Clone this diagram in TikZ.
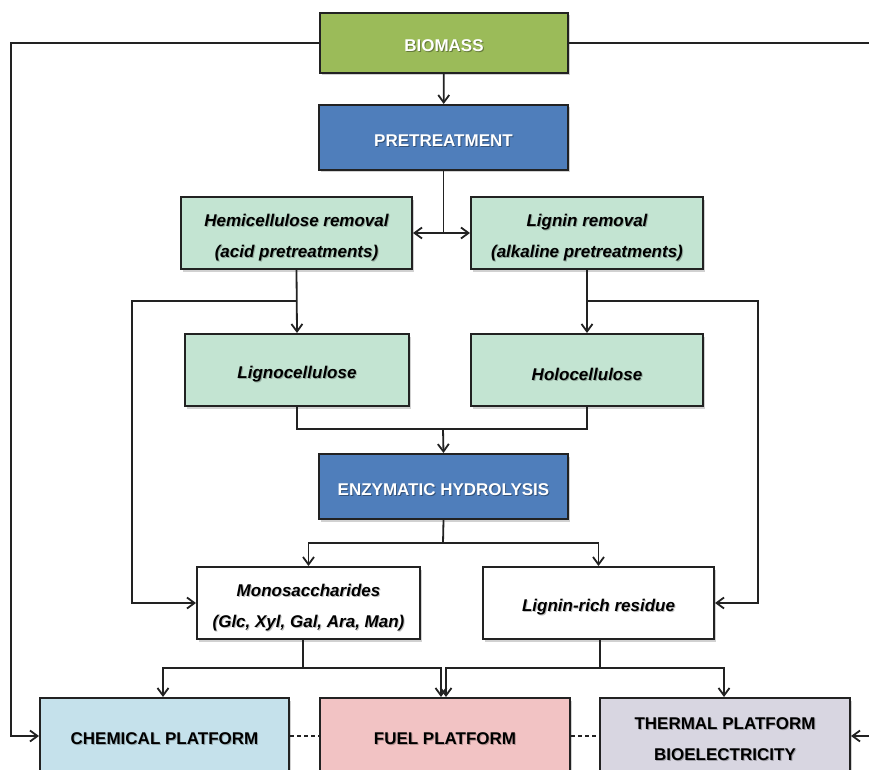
\documentclass[tikz,border=0pt]{standalone}
\usepackage{fontspec}
\setmainfont{Liberation Sans}
\usetikzlibrary{arrows.meta,shadows}
\definecolor{biogreen}{HTML}{9BBB59}
\definecolor{procblue}{HTML}{4F7EBB}
\definecolor{mint}{HTML}{C3E4D2}
\definecolor{chemblue}{HTML}{C5E1EB}
\definecolor{fuelpink}{HTML}{F2C3C4}
\definecolor{thermgray}{HTML}{D8D6E1}
\definecolor{edge}{HTML}{222222}
\tikzset{
  box/.style={draw=edge, line width=2pt, inner sep=0pt,
    drop shadow={shadow xshift=2pt, shadow yshift=-2.5pt, fill=black, opacity=0.18}},
  lbl/.style={inner sep=0pt, align=center, font=\fontsize{17}{31}\selectfont\bfseries},
  ilbl/.style={inner sep=0pt, align=center, font=\fontsize{17}{31}\selectfont\bfseries\itshape},
  wtxt/.style={label={[lbl, text=black, opacity=0.35, yshift=-4pt, xshift=1pt]center:{#1}},
               label={[lbl, text=white, yshift=-3pt]center:{#1}}},
  btxt/.style={label={[lbl, text=black, opacity=0.25, yshift=-4pt, xshift=1pt]center:{#1}},
               label={[lbl, text=black, yshift=-3pt]center:{#1}}},
  itxt/.style={label={[ilbl, text=black, opacity=0.25, yshift=-5.5pt, xshift=1pt]center:{#1}},
               label={[ilbl, text=black, yshift=-4.5pt]center:{#1}}},
  arr/.style={line width=1.8pt, draw=edge, -{Straight Barb[length=7.5pt,width=11pt,line width=1.8pt]}},
  ln/.style={line width=1.8pt, draw=edge},
  dline/.style={line width=1.8pt, draw=edge, dash pattern=on 4pt off 3pt}
}
\begin{document}
\begin{tikzpicture}[x=1pt,y=-1pt]
\useasboundingbox (0,0) rectangle (869,770);
\clip (0,0) rectangle (869,770);
\node[box, fill=biogreen, minimum width=248, minimum height=60, wtxt={BIOMASS}] (bio) at (444,43) {};
\node[box, fill=procblue, minimum width=249, minimum height=65, wtxt={PRETREATMENT}] (pre) at (443.5,137.5) {};
\node[box, fill=mint, minimum width=231, minimum height=72, itxt={Hemicellulose removal\\(acid pretreatments)}] (hemi) at (296.5,233) {};
\node[box, fill=mint, minimum width=232, minimum height=72, itxt={Lignin removal\\(alkaline pretreatments)}] (lrem) at (587,233) {};
\node[box, fill=mint, minimum width=224, minimum height=72, itxt={Lignocellulose}] (ligno) at (297,370) {};
\node[box, fill=mint, minimum width=232, minimum height=72, itxt={Holocellulose}] (holo) at (587,370) {};
\node[box, fill=procblue, minimum width=249, minimum height=65, wtxt={ENZYMATIC HYDROLYSIS}] (enz) at (443.5,486.5) {};
\node[box, fill=white, minimum width=223, minimum height=72, itxt={Monosaccharides\\(Glc, Xyl, Gal, Ara, Man)}] (mono) at (308.5,603) {};
\node[box, fill=white, minimum width=231, minimum height=72, itxt={Lignin-rich residue}] (lres) at (598.5,603) {};
\node[box, fill=chemblue, minimum width=249, minimum height=76, btxt={CHEMICAL PLATFORM}] (chem) at (164.5,736) {};
\node[box, fill=fuelpink, minimum width=250, minimum height=76, btxt={FUEL PLATFORM}] (fuel) at (445,736) {};
\node[box, fill=thermgray, minimum width=250, minimum height=76, btxt={THERMAL PLATFORM\\BIOELECTRICITY}] (therm) at (725,736) {};
% coordinates
\coordinate (lout) at (11,43);
\coordinate (rout) at (869,43);
\coordinate (rin) at (869,736);
\coordinate (bl) at (132,301);
\coordinate (br) at (758,301);
\coordinate (jm) at (443,429);
\coordinate (je) at (443,543);
\coordinate (mx) at (303,0);
\coordinate (rx) at (600,0);
\coordinate (ym) at (0,668);
\coordinate (c1) at (163,668);
\coordinate (f1) at (441,668);
\coordinate (f2) at (446,668);
\coordinate (t1) at (724,668);
% connectors
\draw[arr] (bio) -- (pre);
\draw[ln] (pre.south) -- (pre.south |- hemi.east);
\draw[arr] (pre.south |- hemi.east) -- (hemi.east);
\draw[arr] (pre.south |- hemi.east) -- (lrem.west);
\draw[arr] (hemi.south) -- (ligno.north);
\draw[arr] (lrem.south) -- (holo.north);
\draw[arr] (hemi.south |- bl) -- (bl) |- (mono.west);
\draw[arr] (lrem.south |- br) -- (br) |- (lres.east);
\draw[ln] (ligno.south) -- (ligno.south |- jm) -- (holo.south |- jm) -- (holo.south);
\draw[arr] (jm) -- (enz.north);
\draw[ln] (enz.south) -- (je);
\draw[arr] (je) -| (mono.north);
\draw[arr] (je) -| (lres.north);
\draw[ln] (mono.south -| mx) -- (ym -| mx);
\draw[arr] (ym -| mx) -- (c1) -- (chem.north -| c1);
\draw[arr] (ym -| mx) -- (f1) -- (fuel.north -| f1);
\draw[ln] (lres.south -| rx) -- (ym -| rx);
\draw[arr] (ym -| rx) -- (f2) -- (fuel.north -| f2);
\draw[arr] (ym -| rx) -- (t1) -- (therm.north -| t1);
\draw[arr] (bio.west) -- (lout) |- (chem.west);
\draw[ln] (bio.east) -- (rout);
\draw[arr] (rin) -- (therm.east);
\draw[dline] (chem.east) -- (fuel.west);
\draw[dline] (fuel.east) -- (therm.west);
\end{tikzpicture}
\end{document}
